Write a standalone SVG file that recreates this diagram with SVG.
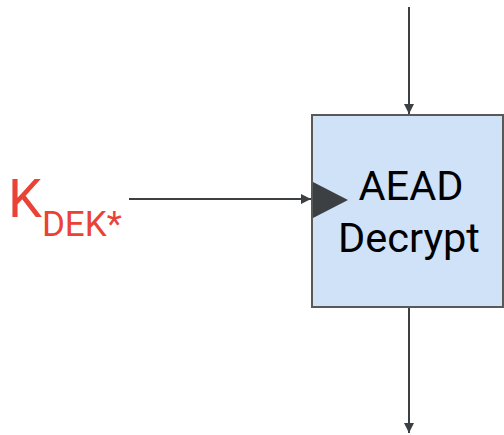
<svg xmlns="http://www.w3.org/2000/svg" width="504" height="435" viewBox="0 0 504 435">
  <style>
    .box { fill: #cfe2f8; stroke: #595959; stroke-width: 2; }
    .wire { stroke: #3c4043; stroke-width: 2; fill: none; }
    .label { font-family: Roboto, "Liberation Sans", sans-serif; fill: #000000; }
    .key { font-family: Roboto, "Liberation Sans", sans-serif; fill: #ea4335; }
  </style>
  <defs>
    <marker id="arrow" viewBox="0 0 10 10" refX="10" refY="5" markerWidth="5" markerHeight="5" orient="auto" markerUnits="strokeWidth">
      <path d="M0,0 L10,5 L0,10 z" fill="#3c4043"/>
    </marker>
  </defs>
  <rect width="504" height="435" fill="#ffffff"/>

  <g id="aead-decrypt">
    <rect class="box" x="312" y="115" width="191" height="192"/>
    <!-- key input port -->
    <path d="M313,182 L348,200 L313,218 z" fill="#3c4043"/>
    <text class="label" x="411" y="200" font-size="41.5" text-anchor="middle">AEAD</text>
    <text class="label" x="409" y="252" font-size="41.5" text-anchor="middle">Decrypt</text>
  </g>

  <g id="key-label">
    <text class="key" x="8" y="217" font-size="54">K<tspan font-size="35" dy="19">DEK*</tspan></text>
  </g>

  <g id="connectors">
    <line class="wire" x1="409" y1="7" x2="409" y2="114" marker-end="url(#arrow)"/>
    <line class="wire" x1="129" y1="199" x2="311" y2="199" marker-end="url(#arrow)"/>
    <line class="wire" x1="409" y1="308" x2="409" y2="433" marker-end="url(#arrow)"/>
  </g>
</svg>
